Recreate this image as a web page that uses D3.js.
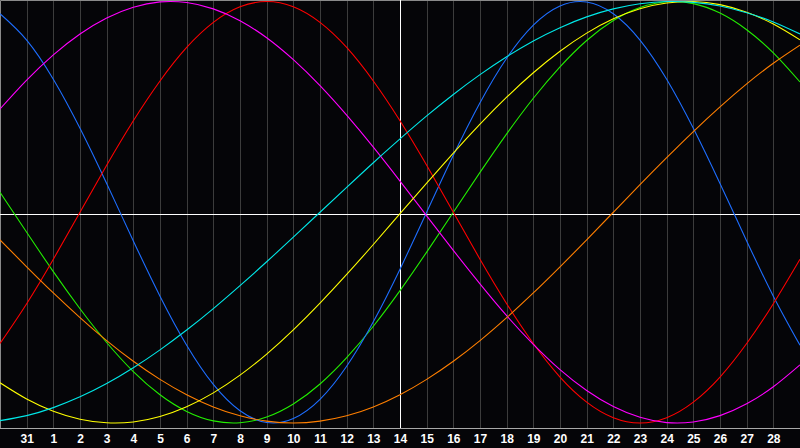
<!DOCTYPE html>
<html>
<head>
<meta charset="utf-8">
<script src="https://cdn.jsdelivr.net/npm/d3@7"></script>
<style>
    html, body { margin: 0; padding: 0; background: #000; }
    svg { display: block; }
</style>
</head>
<body>
<div id="bio"></div>
<script>
// one reading per day, from Jan 30 to Mar 1 (values in %)
const dayLabels = [30, 31, 1, 2, 3, 4, 5, 6, 7, 8, 9, 10, 11, 12, 13, 14,
    15, 16, 17, 18, 19, 20, 21, 22, 23, 24, 25, 26, 27, 28, 1];

const physical = [94.2, 81.7, 63.1, 39.8, 13.6, -13.6, -39.8, -63.1, -81.7, -94.2, -99.8,
    -97.9, -88.8, -73.1, -52.0, -27.0, 0, 27.0, 52.0, 73.1, 88.8, 97.9, 99.8, 94.2, 81.7,
    63.1, 39.8, 13.6, -13.6, -39.8, -63.1];
const emotional = [-62.3, -43.4, -22.3, 0, 22.3, 43.4, 62.3, 78.2, 90.1, 97.5, 100,
    97.5, 90.1, 78.2, 62.3, 43.4, 22.3, 0, -22.3, -43.4, -62.3, -78.2, -90.1, -97.5, -100,
    -97.5, -90.1, -78.2, -62.3, -43.4, -22.3];
const intellectual = [9.5, -9.5, -28.2, -45.8, -61.8, -75.6, -86.6, -94.5, -99.0, -99.9, -97.2,
    -91.0, -81.5, -69.0, -54.1, -37.2, -18.9, 0, 18.9, 37.2, 54.1, 69.0, 81.5, 91.0, 97.2,
    99.9, 99.0, 94.5, 86.6, 75.6, 61.8];
const intuitive = [49.0, 62.7, 74.7, 84.6, 92.2, 97.3, 99.8, 99.5, 96.5, 90.9, 82.8,
    72.4, 60.1, 46.1, 30.9, 14.8, -1.7, -18.1, -34.0, -49.1, -62.7, -74.7, -84.6, -92.2, -97.3,
    -99.8, -99.5, -96.5, -90.9, -82.8, -72.4];
const aesthetic = [-80.9, -88.6, -94.4, -98.2, -99.9, -99.5, -96.9, -92.3, -85.7, -77.3, -67.3,
    -55.8, -43.1, -29.5, -15.3, -0.7, 13.8, 28.1, 41.8, 54.6, 66.2, 76.4, 85.0, 91.8, 96.6,
    99.3, 100.0, 98.5, 94.9, 89.3, 81.8];
const awareness = [-13.1, -25.9, -38.3, -50.0, -60.9, -70.7, -79.3, -86.6, -92.4, -96.6, -99.1,
    -100, -99.1, -96.6, -92.4, -86.6, -79.3, -70.7, -60.9, -50.0, -38.3, -25.9, -13.1, 0, 13.1,
    25.9, 38.3, 50.0, 60.9, 70.7, 79.3];
const spiritual = [-98.9, -96.5, -92.7, -87.6, -81.3, -73.8, -65.3, -55.9, -45.7, -34.8, -23.5,
    -11.8, 0, 11.8, 23.5, 34.8, 45.7, 55.9, 65.3, 73.8, 81.3, 87.6, 92.7, 96.5, 98.9,
    100.0, 99.6, 97.9, 94.7, 90.3, 84.6];

const todayIndex = 15;   // Feb 14

drawBio();

function drawBio() {

    const width = 800;
    const height = 448;
    const plotBottom = 428;

    const colours = {
        intellectual: '#22ee00',
        physical: '#1e6eff',
        emotional: '#ff0000',
        intuitive: '#ff00ff',
        awareness: '#ff7f00',
        aesthetic: '#ffff00',
        spiritual: '#00e8e8'
    };

    // drawing order, last one on top
    const cycles = [
        {name: 'intellectual', values: intellectual},
        {name: 'physical', values: physical},
        {name: 'emotional', values: emotional},
        {name: 'intuitive', values: intuitive},
        {name: 'awareness', values: awareness},
        {name: 'aesthetic', values: aesthetic},
        {name: 'spiritual', values: spiritual}
    ];

    const svg = d3.select('#bio')
        .append('svg')
            .attr('width', width)
            .attr('height', height)
            .attr('viewBox', [0, 0, width, height]);

    svg.append('rect')
        .attr('width', width)
        .attr('height', height)
        .attr('fill', '#050508');

    // SCALES
    const x = d3.scaleLinear()
        .domain([0, dayLabels.length - 1])
        .range([0, width]);
    const y = d3.scaleLinear()
        .domain([-100, 100])
        .range([423, 1.5]);

    const px = v => Math.round(v) + 0.5;

    // day grid
    const ticks = d3.range(1, dayLabels.length - 1);
    svg.append('g')
        .attr('id', 'grid')
        .selectAll('line')
        .data(ticks)
        .join('line')
            .attr('x1', d => px(x(d)))
            .attr('x2', d => px(x(d)))
            .attr('y1', 0)
            .attr('y2', plotBottom)
            .attr('stroke', '#3c3c3c')
            .attr('stroke-width', 1);

    // frame
    svg.append('path')
        .attr('d', `M0.5,${plotBottom + 0.5}V0.5H${width}`)
        .attr('fill', 'none')
        .attr('stroke', '#8a8a8a');
    svg.append('line')
        .attr('x1', 0).attr('x2', width)
        .attr('y1', plotBottom + 0.5).attr('y2', plotBottom + 0.5)
        .attr('stroke', '#a8a8a8');

    // crosshair: today and zero level
    svg.append('line')
        .attr('x1', px(x(todayIndex))).attr('x2', px(x(todayIndex)))
        .attr('y1', 0).attr('y2', plotBottom)
        .attr('stroke', '#ffffff');
    svg.append('line')
        .attr('x1', 0).attr('x2', width)
        .attr('y1', 214.5).attr('y2', 214.5)
        .attr('stroke', '#ffffff');

    // curves
    const line = d3.line()
        .curve(d3.curveNatural)
        .x((d, i) => x(i))
        .y(d => y(d));

    svg.append('g')
        .attr('id', 'cycles')
        .selectAll('path')
        .data(cycles)
        .join('path')
            .attr('fill', 'none')
            .attr('stroke', d => colours[d.name])
            .attr('stroke-width', 1.1)
            .attr('d', d => line(d.values));

    // AXIS labels
    const xx = g =>
        g
            .attr('transform', `translate(0,${plotBottom})`)
            .call(d3.axisBottom(x)
                .tickValues(ticks)
                .tickSize(0)
                .tickPadding(6)
                .tickFormat(i => dayLabels[i]))
            .call(g => g.select('.domain').remove())
            .call(g => g.selectAll('.tick text')
                .attr('fill', '#ffffff')
                .style('font-family', '"Liberation Sans", Arial, sans-serif')
                .style('font-weight', 'bold')
                .style('font-size', '12px'));

    svg.append('g').call(xx);
}
</script>
</body>
</html>
